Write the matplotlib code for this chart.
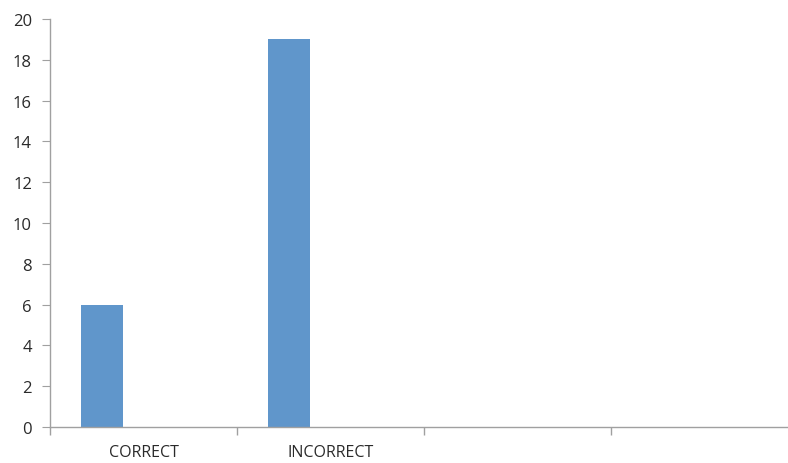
import numpy as np
import matplotlib.pyplot as plt

# donnees
categories = ['CORRECT', 'INCORRECT', '', '']
values = [6, 19, 0, 0]
y_ticks = [0, 2, 4, 6, 8, 10, 12, 14, 16, 18, 20]

plt.rcParams['font.family'] = ['Open Sans', 'DejaVu Sans']

fig = plt.figure(figsize=(7.88, 4.64), dpi=100)
# l'axe depasse un peu le bord droit, comme dans l'original
ax = fig.add_axes([50/788, 36/464, 748/788, 408/464])

x = np.arange(len(categories))
ax.bar(x + 0.277, values, width=0.222, color='#6096CB', align='center')

ax.set_xlim(0, len(categories))
ax.set_ylim(0, 20)
ax.set_yticks(y_ticks)

# separateurs de categories + libelles centres
ax.set_xticks(np.arange(len(categories) + 1))
ax.set_xticklabels([])
ax.set_xticks(x + 0.5, minor=True)
ax.set_xticklabels(categories, minor=True)
ax.tick_params(axis='x', which='minor', length=0, pad=12, labelsize=11.5, colors='#2a2a2a')
ax.tick_params(axis='x', which='major', length=6, color='#A0A0A0', width=1)
ax.tick_params(axis='y', length=6, color='#A0A0A0', pad=7, labelsize=12, labelcolor='#2a2a2a')

for s in ['top', 'right']:
    ax.spines[s].set_visible(False)
for s in ['left', 'bottom']:
    ax.spines[s].set_color('#A0A0A0')
    ax.spines[s].set_linewidth(1)

fig.savefig('out.png', dpi=100)
